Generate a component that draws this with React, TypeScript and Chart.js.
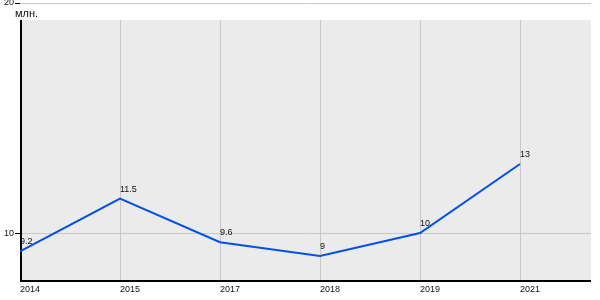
import React, { useEffect, useRef } from 'react';
import { Chart, registerables } from 'chart.js';

Chart.register(...registerables);

const years = ['2014', '2015', '2017', '2018', '2019', '2021'];
const values = [9.2, 11.5, 9.6, 9, 10, 13];
const valueLabels = ['9.2', '11.5', '9.6', '9', '10', '13'];
const yTicks = [10, 20];
const unitLabel = 'млн.';

const FONT = "'Liberation Sans', Arial, sans-serif";
const TEXT = '#111';

export default function App() {
  const ref = useRef<HTMLCanvasElement>(null);

  useEffect(() => {
    const canvas = ref.current;
    if (!canvas) return;
    const plotTopOffset = 17;

    const framePlugin = {
      id: 'frame',
      beforeDraw(chart: any) {
        const { ctx, chartArea: a } = chart;
        ctx.save();
        ctx.fillStyle = '#ebebeb';
        ctx.fillRect(a.left, a.top + plotTopOffset, a.right - a.left, a.bottom - a.top - plotTopOffset);
        ctx.restore();
      },
      beforeDatasetsDraw(chart: any) {
        const { ctx, chartArea: a, scales } = chart;
        const xs = scales.x;
        ctx.save();
        ctx.strokeStyle = '#c8c8c8';
        ctx.lineWidth = 1;
        xs.ticks.forEach((t: any) => {
          const px = Math.round(xs.getPixelForValue(t.value)) + 0.5;
          ctx.beginPath();
          ctx.moveTo(px, a.top + plotTopOffset);
          ctx.lineTo(px, a.bottom);
          ctx.stroke();
        });
        ctx.strokeStyle = '#000';
        ctx.lineWidth = 2;
        ctx.beginPath();
        ctx.moveTo(a.left + 1, a.top + plotTopOffset);
        ctx.lineTo(a.left + 1, a.bottom + 2);
        ctx.stroke();
        ctx.beginPath();
        ctx.moveTo(a.left, a.bottom + 1);
        ctx.lineTo(a.right, a.bottom + 1);
        ctx.stroke();
        ctx.fillStyle = TEXT;
        ctx.font = `11px ${FONT}`;
        ctx.textAlign = 'left';
        ctx.textBaseline = 'alphabetic';
        ctx.fillText(unitLabel, a.left - 5, a.top + 14);
        ctx.restore();
      },
      afterDatasetsDraw(chart: any) {
        const { ctx } = chart;
        const meta = chart.getDatasetMeta(0);
        ctx.save();
        ctx.fillStyle = TEXT;
        ctx.font = `9px ${FONT}`;
        ctx.textAlign = 'left';
        ctx.textBaseline = 'alphabetic';
        meta.data.forEach((pt: any, i: number) => {
          ctx.fillText(valueLabels[i], pt.x, pt.y - 7);
        });
        ctx.restore();
      },
    };

    const chart = new Chart(canvas, {
      type: 'line',
      data: {
        datasets: [
          {
            data: values.map((v, i) => ({ x: i, y: v })),
            borderColor: '#0050ea',
            borderWidth: 2,
            pointRadius: 0,
            tension: 0,
            fill: false,
          },
        ],
      },
      options: {
        responsive: false,
        animation: false,
        events: [],
        layout: { padding: { top: 3, right: 9, left: 0, bottom: 0 } },
        plugins: { legend: { display: false }, tooltip: { enabled: false } },
        scales: {
          x: {
            type: 'linear',
            min: 0,
            max: 5.71,
            afterBuildTicks: (s: any) => {
              s.ticks = years.map((_, i) => ({ value: i }));
            },
            afterFit: (s: any) => {
              s.height = 20;
              s.paddingLeft = 0;
              s.paddingRight = 0;
            },
            grid: { display: false, drawTicks: false },
            border: { display: false },
            ticks: {
              align: 'start',
              padding: 4,
              autoSkip: false,
              maxRotation: 0,
              font: { size: 9, family: FONT },
              color: TEXT,
              callback: (v: any) => years[v] ?? '',
            },
          },
          y: {
            type: 'linear',
            min: 7.96,
            max: 20,
            afterBuildTicks: (s: any) => {
              s.ticks = yTicks.map((v) => ({ value: v }));
            },
            afterFit: (s: any) => {
              s.width = 20;
              s.paddingTop = 0;
              s.paddingBottom = 0;
            },
            grid: { color: '#c8c8c8', tickColor: '#000', tickLength: 5 },
            border: { display: false },
            ticks: {
              padding: 1,
              font: { size: 9, family: FONT },
              color: TEXT,
            },
          },
        },
      },
      plugins: [framePlugin],
    } as any);

    return () => chart.destroy();
  }, []);

  return (
    <div style={{ position: 'absolute', left: 0, top: 0, width: 600, height: 300 }}>
      <canvas ref={ref} width={600} height={300} />
    </div>
  );
}
